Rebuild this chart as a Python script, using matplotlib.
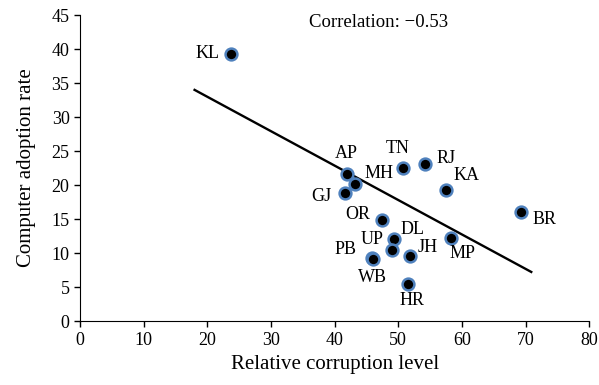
import numpy as np
import matplotlib.pyplot as plt

plt.rcParams['font.family'] = ['Liberation Serif', 'DejaVu Serif']

states = ['KL', 'AP', 'MH', 'GJ', 'TN', 'RJ', 'KA', 'OR', 'DL', 'UP',
          'PB', 'WB', 'JH', 'HR', 'MP', 'BR']
corruption = [23.8, 41.9, 43.2, 41.6, 50.7, 54.2, 57.5, 47.4, 49.4, 49.0,
              45.9, 46.0, 51.8, 51.5, 58.3, 69.3]
adoption = [39.2, 21.6, 20.1, 18.9, 22.5, 23.1, 19.3, 14.9, 12.1, 10.4,
            9.3, 9.2, 9.6, 5.5, 12.2, 16.0]

# label offsets in points (dx, dy) relative to each dot
label_dx = [-17, 0, 17, -17, -4, 15, 15, -17, 13, -14, -19, 0, 13, 3, 8, 17]
label_dy = [1, 15, 8, -3, 14, 4, 10, 4, 7, 8, 6, -14, 6, -12, -11, -5]

trend_x = [18, 70.9]
slope = -0.506
intercept = 43.1
corr = -0.53

fig = plt.figure(figsize=(5.99, 3.85), dpi=100)
ax = fig.add_axes([0.1336, 0.166, 0.85, 0.795])

tx = np.array(trend_x)
ax.plot(tx, slope * tx + intercept, color='black', lw=1.7, zorder=2)

ax.plot(corruption, adoption, 'o', color='black', markersize=8.5,
        markeredgecolor='#4f81bd', markeredgewidth=1.8, zorder=3)

for name, x, y, dx, dy in zip(states, corruption, adoption, label_dx, label_dy):
    ax.annotate(name, (x, y), xytext=(dx, dy), textcoords='offset points',
                ha='center', va='center', fontsize=13)

ax.text(0.587, 0.975, 'Correlation: \u2212%.2f' % abs(corr), transform=ax.transAxes,
        ha='center', va='center', fontsize=13.5)

ax.set_xlim(0, 80)
ax.set_ylim(0, 45)
ax.set_xticks(range(0, 81, 10))
ax.set_yticks(range(0, 46, 5))
ax.spines['top'].set_visible(False)
ax.spines['right'].set_visible(False)
ax.tick_params(labelsize=13, direction='out', length=4, width=1)
ax.set_xlabel('Relative corruption level', fontsize=15, labelpad=5)
ax.set_ylabel('Computer adoption rate', fontsize=15, labelpad=11)

fig.savefig('out.png', dpi=100)
